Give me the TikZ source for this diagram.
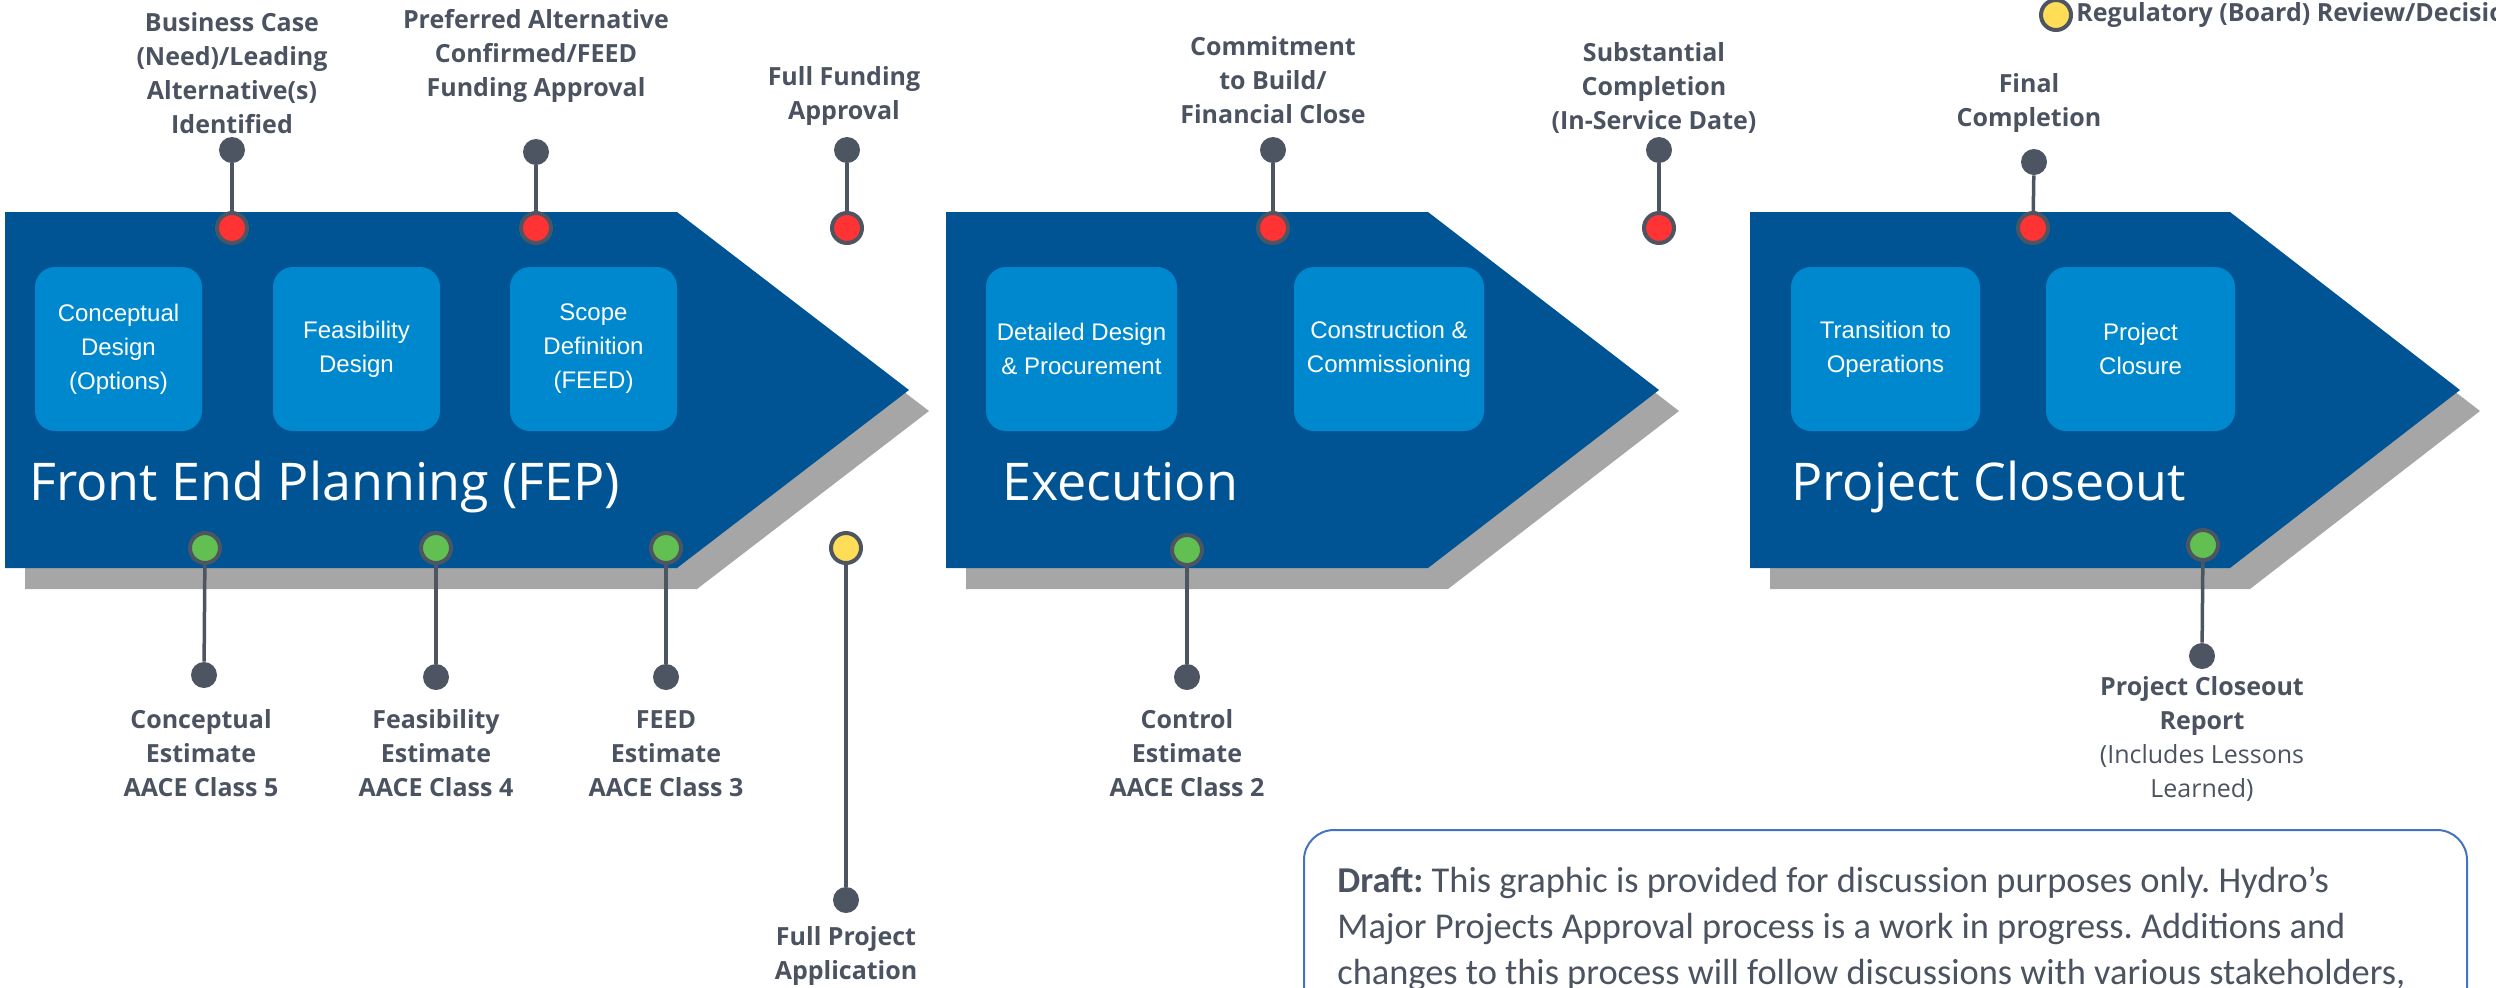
\documentclass[tikz,border=0pt]{standalone}
\usepackage{fontspec}
\setmainfont{Open Sans}
\newfontfamily\stagefont{Liberation Sans}
\newfontfamily\notefont{Carlito}
\usepackage{tikz}
\usetikzlibrary{positioning}
\frenchspacing
\definecolor{phaseblue}{HTML}{005494}
\definecolor{stageblue}{HTML}{0088CF}
\definecolor{shadowgray}{HTML}{A6A6A6}
\definecolor{pingray}{HTML}{4D5562}
\definecolor{labelgray}{HTML}{4B5260}
\definecolor{gatered}{HTML}{FF3333}
\definecolor{gategreen}{HTML}{62BF52}
\definecolor{gateyellow}{HTML}{FFDD57}
\definecolor{noteblue}{HTML}{4472C4}
\tikzstyle{phase} = [fill=phaseblue]
\tikzstyle{shadow} = [fill=shadowgray, shift={(20,21)}]
\tikzstyle{stage} = [rectangle, rounded corners=10pt, fill=stageblue, text=white, minimum height=82pt, inner sep=0pt, align=center, font=\stagefont\fontsize{12}{17}\selectfont]
\tikzstyle{phasename} = [anchor=base west, inner sep=0pt, text=white, font=\fontsize{26}{30}\selectfont]
\tikzstyle{pin} = [circle, fill=pingray, minimum size=13pt, inner sep=0pt]
\tikzstyle{gate} = [circle, draw=pingray, line width=2pt, minimum size=15pt, inner sep=0pt]
\tikzstyle{decision} = [gate, fill=gatered]
\tikzstyle{estimate} = [gate, fill=gategreen]
\tikzstyle{review} = [gate, fill=gateyellow]
\tikzstyle{stalk} = [line width=1.75pt, draw=pingray]
\tikzstyle{milestone} = [align=center, inner sep=0pt, text=labelgray, font=\fontsize{12.5}{17}\selectfont\bfseries]
\tikzstyle{note} = [anchor=north west, align=left, inner sep=0pt, text=labelgray, font=\notefont\fontsize{18.2}{23}\selectfont]
\tikzstyle{noteframe} = [draw=noteblue, line width=1pt, rounded corners=15pt]

\begin{document}
\begin{tikzpicture}[x=0.5pt, y=-0.5pt]
        \useasboundingbox (0,0) rectangle (2496,987);
        \clip (0,0) rectangle (2496,987);

        % phase arrows with their shadows
        \fill [shadow] (5,212) -- (677,212) -- (909,390) -- (677,568) -- (5,568) -- cycle;
        \fill [phase] (5,212) -- (677,212) -- (909,390) -- (677,568) -- (5,568) -- cycle;
        \fill [shadow] (946,212) -- (1428,212) -- (1659,390) -- (1428,568) -- (946,568) -- cycle;
        \fill [phase] (946,212) -- (1428,212) -- (1659,390) -- (1428,568) -- (946,568) -- cycle;
        \fill [shadow] (1750,212) -- (2230,212) -- (2460,390) -- (2230,568) -- (1750,568) -- cycle;
        \fill [phase] (1750,212) -- (2230,212) -- (2460,390) -- (2230,568) -- (1750,568) -- cycle;

        \node (conceptual) [stage, minimum width=83.5pt] at (118.5,349) {Conceptual\\Design\\(Options)};
        \node (feasibility) [stage, minimum width=83.5pt] at (356.5,349) {Feasibility\\Design};
        \node (scope) [stage, minimum width=83.5pt] at (593.5,349) {Scope\\Definition\\(FEED)};
        \node (detailed) [stage, minimum width=95.5pt] at (1081.5,349) {Detailed Design\\\& Procurement};
        \node (construction) [stage, minimum width=95pt] at (1389,349) {Construction \&\\Commissioning};
        \node (transition) [stage, minimum width=94.5pt] at (1885.5,349) {Transition to\\Operations};
        \node (closure) [stage, minimum width=94.5pt] at (2140.5,349) {Project\\Closure};

        \node (fep) [phasename] at (29,500) {Front End Planning (FEP)};
        \node (execution) [phasename] at (1002,500) {Execution};
        \node (closeout) [phasename] at (1791,500) {Project Closeout};

        % decision gates on top
        \node (bizcase) [decision] at (232,228) {};
        \node (bizcasepin) [pin] at (232,150) {};
        \node (bizcasetext) [milestone, above=1pt of bizcasepin] {Business Case\\(Need)/Leading\\Alternative(s)\\Identified};
        \node (prefalt) [decision] at (536,228) {};
        \node (prefaltpin) [pin] at (536,152) {};
        \node (prefalttext) [milestone, above=18pt of prefaltpin] {Preferred Alternative\\Confirmed/FEED\\Funding Approval};
        \node (fullfund) [decision] at (847,228) {};
        \node (fullfundpin) [pin] at (847,150) {};
        \node (fullfundtext) [milestone, above=5.5pt of fullfundpin, xshift=-1.5pt] {Full Funding\\Approval};
        \node (commit) [decision] at (1273,228) {};
        \node (commitpin) [pin] at (1273,150) {};
        \node (committext) [milestone, above=6pt of commitpin] {Commitment\\to Build/\\Financial Close};
        \node (subst) [decision] at (1659,228) {};
        \node (substpin) [pin] at (1659,150) {};
        \node (substtext) [milestone, above=1.5pt of substpin, xshift=-2.5pt] {Substantial\\Completion\\(In-Service Date)};
        \node (final) [decision] at (2033,228) {};
        \node (finalpin) [pin] at (2034,162) {};
        \node (finaltext) [milestone, above=8pt of finalpin, xshift=-2.5pt] {Final\\Completion};

        % estimates and reviews below
        \node (concest) [estimate] at (205,548) {};
        \node (concestpin) [pin] at (204,675) {};
        \node (concesttext) [milestone, below=10.5pt of concestpin, xshift=-1.5pt] {Conceptual\\Estimate\\AACE Class 5};
        \node (feasest) [estimate] at (436,548) {};
        \node (feasestpin) [pin] at (436,677) {};
        \node (feasesttext) [milestone, below=9.5pt of feasestpin] {Feasibility\\Estimate\\AACE Class 4};
        \node (feedest) [estimate] at (666,548) {};
        \node (feedestpin) [pin] at (666,677) {};
        \node (feedesttext) [milestone, below=10pt of feedestpin] {FEED\\Estimate\\AACE Class 3};
        \node (fullapp) [review] at (846,548) {};
        \node (fullapppin) [pin] at (846,900) {};
        \node (fullapptext) [milestone, below=6.5pt of fullapppin] {Full Project\\Application};
        \node (ctrlest) [estimate] at (1187,550) {};
        \node (ctrlestpin) [pin] at (1187,677) {};
        \node (ctrlesttext) [milestone, below=9.5pt of ctrlestpin] {Control\\Estimate\\AACE Class 2};
        \node (closerep) [estimate] at (2203,545) {};
        \node (closereppin) [pin] at (2202,656) {};
        \node (closereptext) [milestone, below=3.5pt of closereppin] {Project Closeout\\Report\\\mdseries(Includes Lessons\\\mdseries Learned)};

        \draw [stalk] (bizcasepin) -- (bizcase);
        \draw [stalk] (prefaltpin) -- (prefalt);
        \draw [stalk] (fullfundpin) -- (fullfund);
        \draw [stalk] (commitpin) -- (commit);
        \draw [stalk] (substpin) -- (subst);
        \draw [stalk] (finalpin) -- (final);
        \draw [stalk] (concest) -- (concestpin);
        \draw [stalk] (feasest) -- (feasestpin);
        \draw [stalk] (feedest) -- (feedestpin);
        \draw [stalk] (fullapp) -- (fullapppin);
        \draw [stalk] (ctrlest) -- (ctrlestpin);
        \draw [stalk] (closerep) -- (closereppin);

        % legend
        \node (legend) [review] at (2056,15) {};
        \node (legendtext) [milestone, right=1.5pt of legend] {Regulatory (Board) Review/Decision};

        % draft note
        \draw [noteframe] (1304,830) rectangle (2467,1120);
        \node (draft) [note] at (1337,866) {\textbf{Draft:} This graphic is provided for discussion purposes only. Hydro’s\\Major Projects Approval process is a work in progress. Additions and\\changes to this process will follow discussions with various stakeholders,};
\end{tikzpicture}
\end{document}
